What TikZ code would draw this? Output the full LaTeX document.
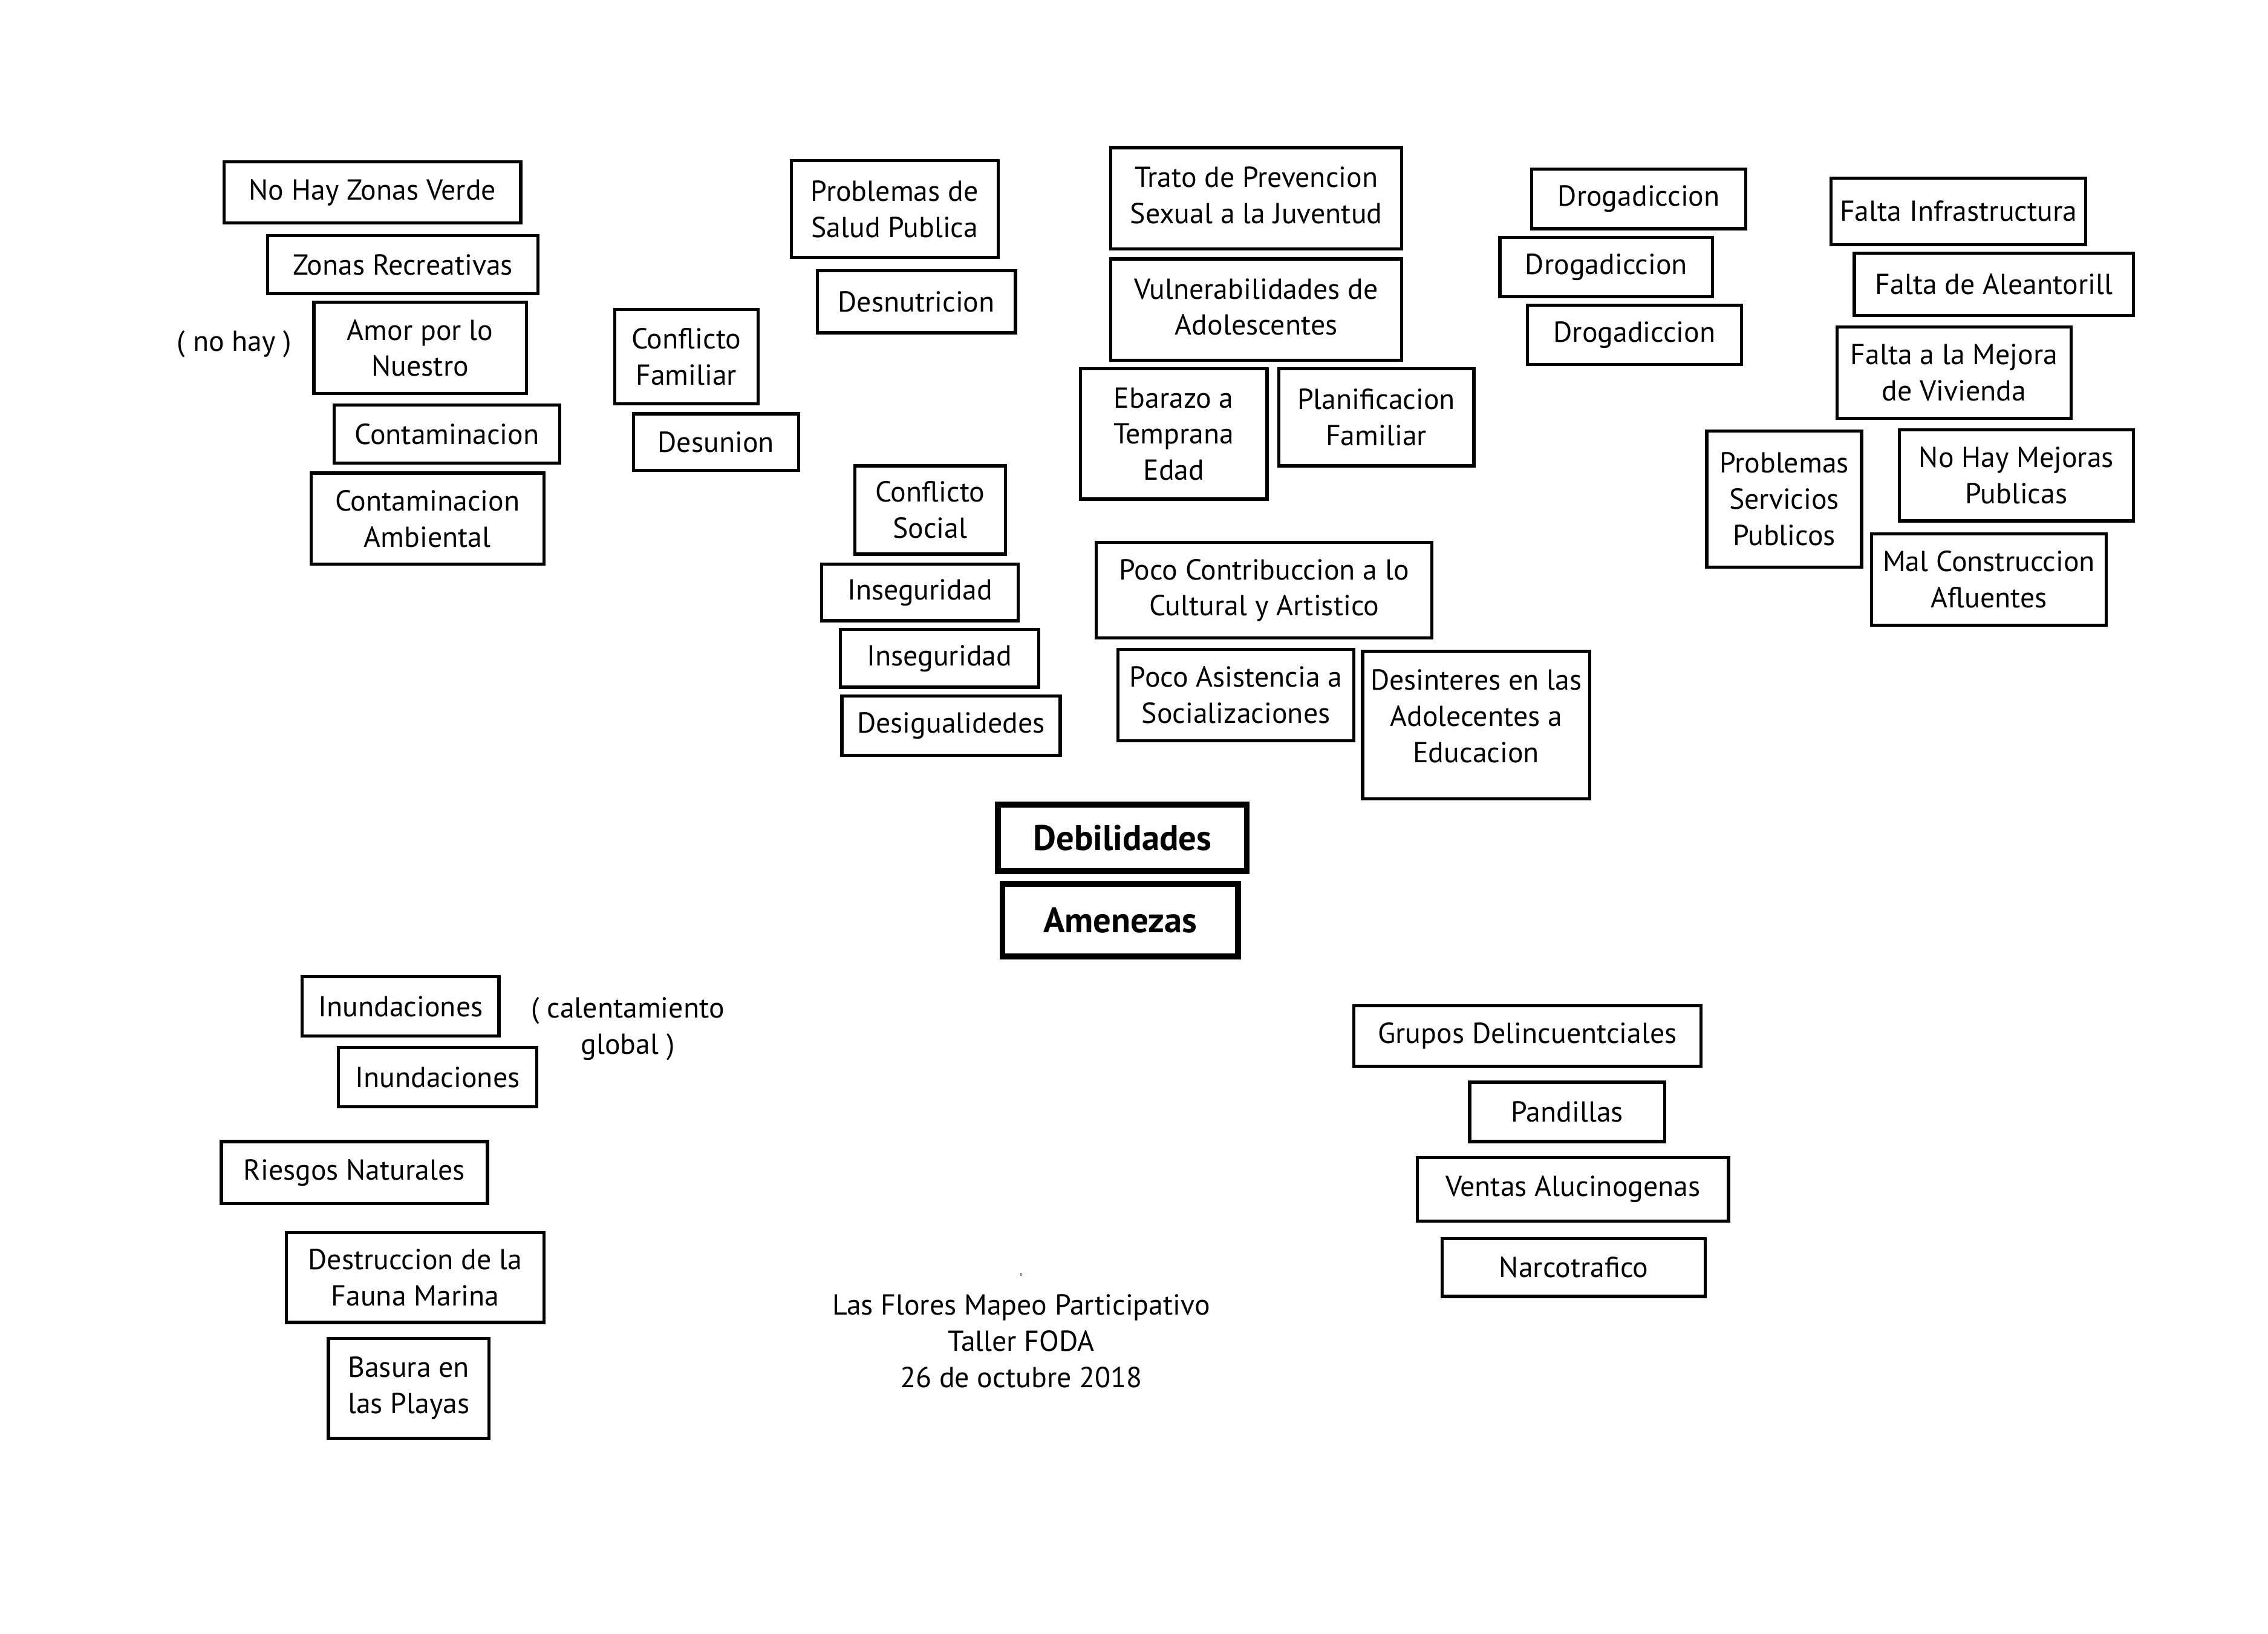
\documentclass[tikz,border=0pt]{standalone}
\usepackage{fontspec}
\setmainfont{PT Sans}
\begin{document}
\begin{tikzpicture}[x=1pt,y=-1pt]
\tikzset{
  tag/.style={draw, line width=2.2pt, inner sep=0pt, align=center,
    font=\fontsize{20}{25}\selectfont},
  headtag/.style={draw, line width=4pt, inner sep=0pt, align=center,
    font=\fontsize{24.5}{28}\selectfont\bfseries},
  note/.style={inner sep=0pt, align=center, font=\fontsize{20}{25}\selectfont}
}
% box given by its left, top, right and bottom edges
\newcommand\tagbox[7][tag]{%
  \node[#1, minimum width={(#5-#3)*1pt}, minimum height={(#6-#4)*1pt}]
    (#2) at ({(#3+#5)/2},{(#4+#6)/2}) {#7};}
\useasboundingbox[fill=white] (0,0) rectangle (1568,1129);

% --- Debilidades: entorno
\tagbox{nozonas}{155}{112}{360}{154}{No Hay Zonas Verde}
\tagbox{zonasrec}{185}{163}{372}{203}{Zonas Recreativas}
\tagbox{amor}{217}{209}{364}{272}{Amor por lo\\Nuestro}
\tagbox{contam}{231}{280}{387}{320}{Contaminacion}
\tagbox{contamamb}{215}{327}{376}{390}{Contaminacion\\Ambiental}
\node[note] (nohay) at (162,238) {( no hay )};

\tagbox{conflfam}{425}{214}{524}{279}{Conflicto\\Familiar}
\tagbox{desunion}{438}{286}{552}{325}{Desunion}

\tagbox{salud}{547}{111}{690}{178}{Problemas de\\Salud Publica}
\tagbox{desnut}{565}{187}{702}{230}{Desnutricion}

\tagbox{conflsoc}{591}{322}{695}{383}{Conflicto\\Social}
\tagbox{inseg1}{568}{390}{704}{429}{Inseguridad}
\tagbox{inseg2}{581}{435}{718}{475}{Inseguridad}
\tagbox{desig}{582}{481}{733}{522}{Desigualidedes}

% --- Debilidades: juventud
\tagbox{trato}{768}{102}{969}{172}{Trato de Prevencion\\Sexual a la Juventud\\[-21pt]\mbox{}}
\tagbox{vulner}{768}{179}{969}{249}{Vulnerabilidades de\\Adolescentes\\[-21pt]\mbox{}}
\tagbox{embarazo}{747}{255}{876}{345}{Ebarazo a\\Temprana\\Edad}
\tagbox{planif}{884}{255}{1019}{322}{Planificacion\\Familiar}
\tagbox{cultura}{758}{375}{990}{441}{Poco Contribuccion a lo\\Cultural y Artistico}
\tagbox{asist}{773}{449}{936}{512}{Poco Asistencia a\\Socializaciones}
\tagbox{desint}{942}{450}{1099}{552}{Desinteres en las\\Adolecentes a\\Educacion\\[-13pt]\mbox{}}

\tagbox{droga1}{1059}{117}{1207}{158}{Drogadiccion}
\tagbox{droga2}{1037}{164}{1184}{205}{Drogadiccion}
\tagbox{droga3}{1056}{211}{1204}{252}{Drogadiccion}

% --- Debilidades: infraestructura
\tagbox{infra}{1266}{123}{1442}{169}{Falta Infrastructura}
\tagbox{alcant}{1282}{175}{1475}{218}{Falta de Aleantorill}
\tagbox{vivienda}{1270}{226}{1432}{289}{Falta a la Mejora\\de Vivienda}
\tagbox{servicios}{1180}{298}{1287}{392}{Problemas\\Servicios\\Publicos}
\tagbox{mejoras}{1313}{297}{1475}{360}{No Hay Mejoras\\Publicas}
\tagbox{construc}{1294}{369}{1456}{432}{Mal Construccion\\Afluentes}

% --- titles
\tagbox[headtag]{debil}{690}{556}{862}{602}{Debilidades}
\tagbox[headtag]{amen}{693}{611}{856}{661}{Amenezas}

% --- Amenazas
\tagbox{inund1}{209}{675}{345}{716}{Inundaciones}
\tagbox{inund2}{234}{724}{371}{765}{Inundaciones}
\node[note] (calent) at (434,711) {( calentamiento\\global )};
\tagbox{riesgos}{153}{789}{337}{832}{Riesgos Naturales}
\tagbox{fauna}{198}{852}{376}{914}{Destruccion de la\\Fauna Marina}
\tagbox{basura}{227}{925}{338}{994}{Basura en\\las Playas}

\tagbox{grupos}{936}{695}{1176}{737}{Grupos Delincuentciales}
\tagbox{pandillas}{1016}{748}{1151}{789}{Pandillas}
\tagbox{ventas}{980}{800}{1195}{844}{Ventas Alucinogenas}
\tagbox{narco}{997}{856}{1179}{896}{Narcotrafico}

% --- caption
\node[inner sep=0pt, font=\fontsize{3}{3}\selectfont] (mark) at (706,881) {0};
\node[note] (caption) at (706,927) {Las Flores Mapeo Participativo\\Taller FODA\\26 de octubre 2018};
\end{tikzpicture}
\end{document}
